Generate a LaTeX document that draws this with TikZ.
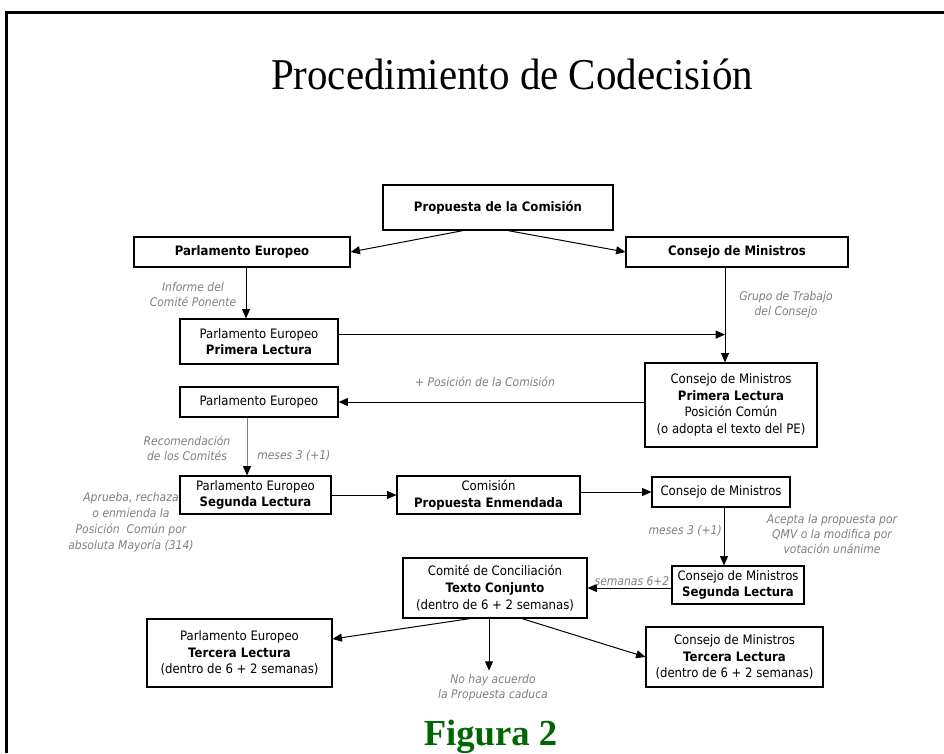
\documentclass[tikz,border=0pt]{standalone}
\usepackage{fontspec}
\setmainfont{Liberation Serif}
\newfontfamily\tah{DejaVu Sans}[FakeStretch=0.9]
\usetikzlibrary{arrows.meta,calc}
\definecolor{lbl}{RGB}{128,128,128}
\definecolor{fig}{RGB}{0,102,0}
\begin{document}
\begin{tikzpicture}[x=0.75pt,y=-0.75pt,
  box/.style={draw, line width=0.9pt, inner sep=0pt, align=center,
    font=\tah\fontsize{9.75}{12.5}\selectfont, text=black},
  sz/.style 2 args={minimum width=#1*0.75pt, minimum height=#2*0.75pt},
  lab/.style={font=\tah\itshape\fontsize{9}{11.25}\selectfont, text=lbl, inner sep=0pt},
  arr/.style={line width=0.75pt, -{Triangle[length=7pt,width=6pt]}}]
\useasboundingbox (0,0) rectangle (944,753);
\fill[white] (0,0) rectangle (944,753);
% frame
\draw[line width=2.25pt] (6,753) -- (6,12.5) -- (944,12.5);
% title
\node[font=\fontsize{33}{38}\selectfont, anchor=base, inner sep=0pt] (title) at (512,89) {\scalebox{0.93}[1]{Procedimiento de Codecisión}};
% boxes
\node[box,sz={230}{45}] (prop) at (498,207.5) {\textbf{Propuesta de la Comisión}};
\node[box,sz={216}{30}] (pe1) at (242,252) {\textbf{Parlamento Europeo}};
\node[box,sz={222}{30}] (cm1) at (737,252) {\textbf{Consejo de Ministros}};
\node[box,sz={158}{45}] (pepl) at (259,341.5) {Parlamento Europeo\\\textbf{Primera Lectura}};
\node[box,sz={172}{84}] (cmpl) at (731,405) {Consejo de Ministros\\\textbf{Primera Lectura}\\Posición Común\\(o adopta el texto del PE)};
\node[box,sz={158}{30}] (pe2) at (259,402) {Parlamento Europeo};
\node[box,sz={151}{38}] (pesl) at (255.5,495) {Parlamento Europeo\\\textbf{Segunda Lectura}};
\node[box,sz={183}{38}] (com) at (488.5,495) {Comisión\\\textbf{Propuesta Enmendada}};
\node[box,sz={138}{30}] (cm2) at (721,492) {Consejo de Ministros};
\node[box,sz={132}{38}] (cmsl) at (738,585) {Consejo de Ministros\\\textbf{Segunda Lectura}};
\node[box,sz={184}{60}] (cc) at (495,588) {Comité de Conciliación\\\textbf{Texto Conjunto}\\(dentro de 6 + 2 semanas)};
\node[box,sz={185}{68}] (petl) at (239.5,653) {Parlamento Europeo\\\textbf{Tercera Lectura}\\(dentro de 6 + 2 semanas)};
\node[box,sz={177}{60}] (cmtl) at (734.5,657) {Consejo de Ministros\\\textbf{Tercera Lectura}\\(dentro de 6 + 2 semanas)};
% connectors
\draw[arr] ($(prop.south)+(-35,0)$) -- (pe1.east);
\draw[arr] ($(prop.south)+(10,0)$) -- (cm1.west);
\coordinate (a1) at ($(pe1.south)+(4,0)$);
\draw[arr] (a1) -- (a1 |- pepl.north);
\coordinate (a2) at ($(cm1.south)+(-12,0)$);
\draw[arr] (a2) -- (a2 |- cmpl.north);
\coordinate (j1) at ($(a2)+(0,67)$);
\draw[arr] (j1 -| pepl.east) -- (j1);
\draw[arr] (cmpl.west |- pe2.east) -- (pe2.east);
\coordinate (a3) at ($(pe2.south)+(-12,0)$);
\draw[line width=0.75pt, draw=lbl, -{Triangle[length=7pt,width=6pt,color=black]}] (a3) -- (a3 |- pesl.north);
\draw[arr] (pesl.east) -- (com.west);
\draw[arr] (com.east |- cm2.west) -- (cm2.west);
\coordinate (a4) at ($(cm2.south)+(3,0)$);
\draw[arr] (a4) -- (a4 |- cmsl.north);
\draw[arr] (cc.east -| cmsl.west) -- (cc.east);
\draw[arr] ($(cc.south)+(-25,0)$) -- ($(petl.east)+(0,-14)$);
\coordinate (nd) at ($(cc.south)+(-6,52)$);
\draw[arr] ($(cc.south)+(-6,0)$) -- (nd);
\draw[arr] ($(cc.south)+(27,0)$) -- (cmtl.west);
% labels
\node[lab, align=center] (l1) at (193,294.5) {Informe del\\Comité Ponente};
\node[lab, align=center] (l2) at (786,305) {Grupo de Trabajo\\del Consejo};
\node[lab] (l3) at (485,382) {+ Posición de la Comisión};
\node[lab, align=center] (l4) at (187,448) {Recomendación\\de los Comités};
\node[lab, anchor=west] (l5) at (257,456) {meses 3 (+1)};
\node[lab, align=center, font=\tah\itshape\fontsize{9}{12}\selectfont] (l6) at (131,522) {Aprueba, rechaza\\o enmienda la\\Posición\ \ Común por\\absoluta Mayoría (314)};
\node[lab, anchor=east] (l7) at (722,531) {meses 3 (+1)};
\node[lab, align=center] (l8) at (832,534) {Acepta la propuesta por\\QMV o la modifica por\\votación unánime};
\node[lab] (l9) at (632,581) {semanas 6+2};
\node[lab, align=center] (l10) at (493,688) {No hay acuerdo\\la Propuesta caduca};
% figure caption
\node[font=\bfseries\fontsize{27.5}{32}\selectfont, text=fig, anchor=base, inner sep=0pt] (figura) at (490.5,745) {Figura 2};
\end{tikzpicture}
\end{document}
